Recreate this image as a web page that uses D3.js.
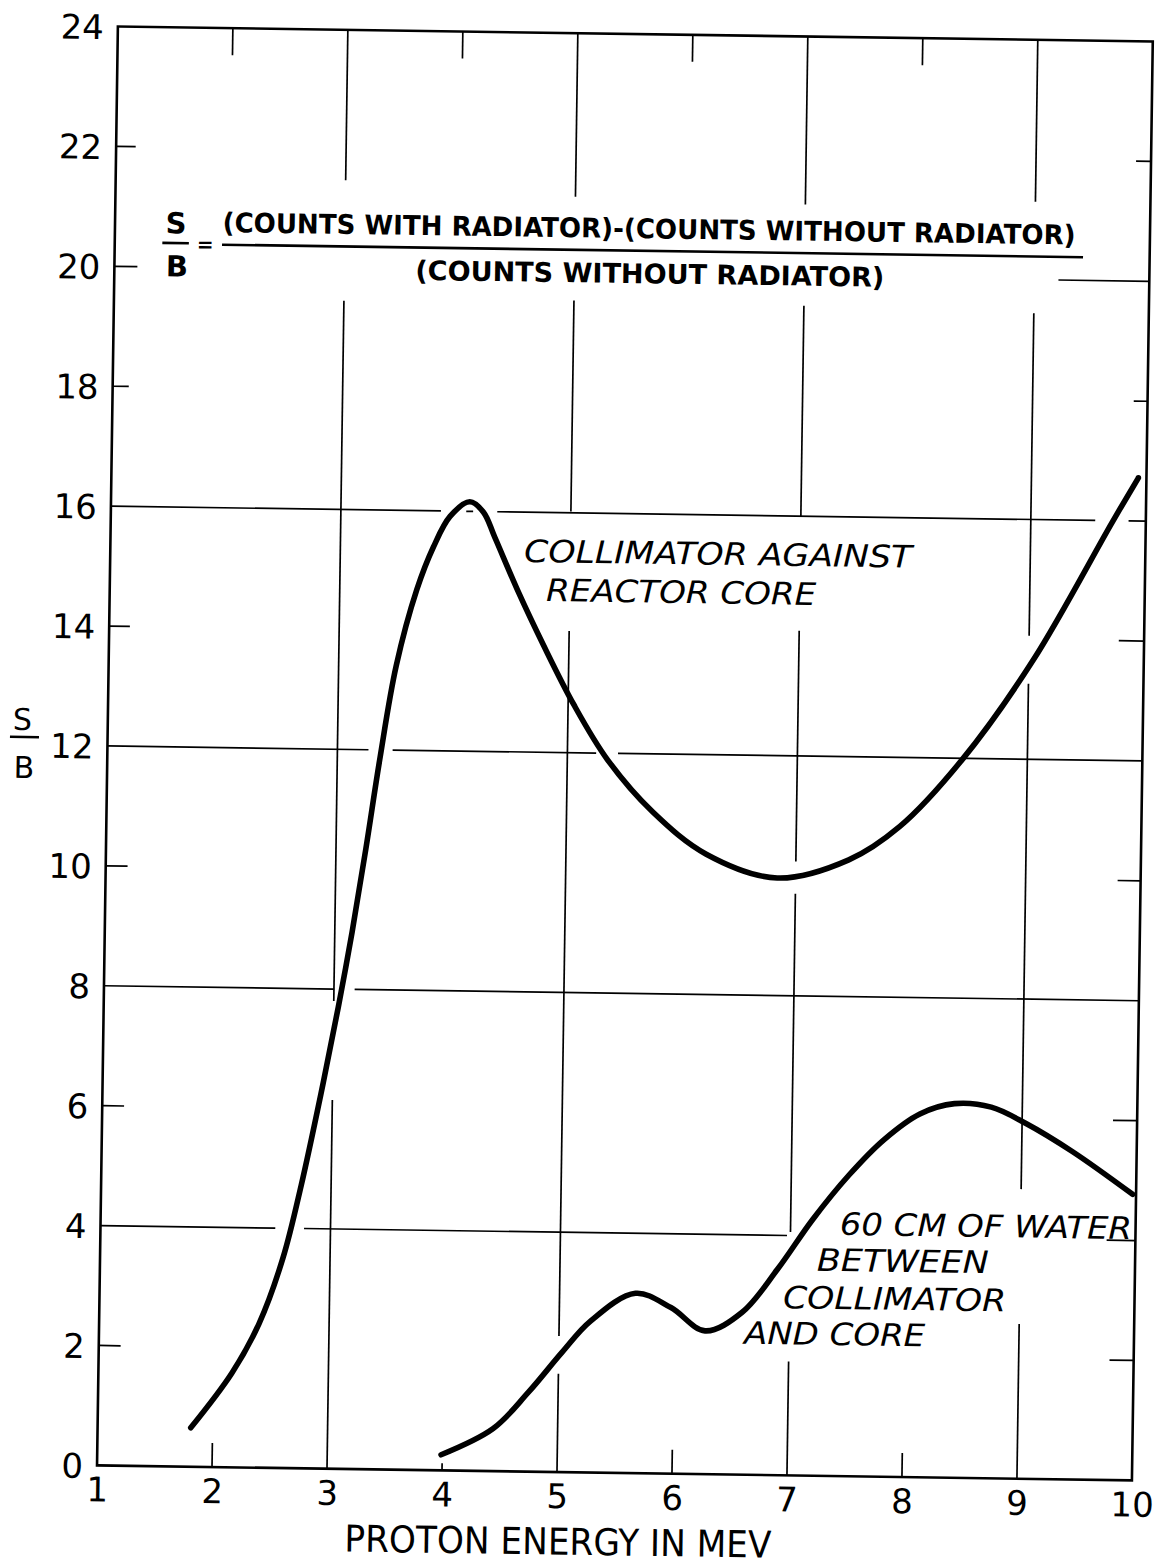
<!DOCTYPE html>
<html>
<head>
<meta charset="utf-8">
<script src="https://cdn.jsdelivr.net/npm/d3@7"></script>
<style>
  html, body { margin: 0; padding: 0; background: #fff; }
  svg { display: block; }
</style>
</head>
<body>
<svg id="chart" width="1157" height="1566"></svg>
<script>
// Axis ticks
const energyTicks = [1, 2, 3, 4, 5, 6, 7, 8, 9, 10];
const ratioTicks = [0, 2, 4, 6, 8, 10, 12, 14, 16, 18, 20, 22, 24];

// S/B with the collimator against the reactor core
const coreEnergy = [1.81, 2.16, 2.39, 2.59, 2.74, 2.90, 3.04, 3.15, 3.26, 3.37, 3.50, 3.67, 3.81, 3.95, 4.12, 4.24, 4.34, 4.55, 4.78, 5.05, 5.35, 5.75, 6.22, 6.84, 7.46, 7.90, 8.43, 9.04, 9.71, 9.93];
const coreRatio  = [0.65, 1.57, 2.40, 3.50, 4.72, 6.25, 7.70, 8.95, 10.35, 11.85, 13.40, 14.68, 15.40, 15.91, 16.16, 15.99, 15.58, 14.68, 13.78, 12.80, 11.89, 11.03, 10.34, 9.96, 10.28, 10.85, 11.97, 13.66, 15.98, 16.72];

// S/B with 60 cm of water between collimator and core
const waterEnergy = [3.99, 4.44, 4.74, 5.03, 5.27, 5.66, 5.97, 6.27, 6.59, 6.89, 7.19, 7.50, 7.80, 8.11, 8.41, 8.73, 9.03, 9.44, 9.97];
const waterRatio  = [0.26, 0.71, 1.32, 2.00, 2.52, 3.00, 2.77, 2.39, 2.71, 3.43, 4.27, 5.02, 5.62, 6.06, 6.24, 6.19, 5.93, 5.47, 4.77];

// Ruled grid, in axis units: each rule is broken where a curve or lettering crosses it
const verticalRules = [
  { at: 2, spans: [[0, 0.4], [23.55, 24]] },
  { at: 3, spans: [[0, 6.15], [7.8, 19.48], [21.49, 24]] },
  { at: 4, spans: [[0, 0.12], [23.55, 24]] },
  { at: 5, spans: [[0, 1.64], [2.27, 14.03], [16.02, 19.54], [21.27, 24]] },
  { at: 6, spans: [[0, 0.4], [23.55, 24]] },
  { at: 7, spans: [[0, 1.9], [4.06, 9.7], [10.24, 14.09], [15.99, 19.51], [21.2, 24]] },
  { at: 8, spans: [[0, 0.4], [23.55, 24]] },
  { at: 9, spans: [[0, 2.58], [4.83, 13.26], [14.06, 19.44], [21.3, 24]] }
];
const horizontalRules = [
  { at: 2,  spans: [[1, 1.19], [9.79, 10]] },
  { at: 4,  spans: [[1, 2.52], [2.77, 6.97], [9.75, 10]] },
  { at: 6,  spans: [[1, 1.19], [9.79, 10]] },
  { at: 8,  spans: [[1, 3.0], [3.18, 10]] },
  { at: 10, spans: [[1, 1.19], [9.8, 10]] },
  { at: 12, spans: [[1, 3.27], [3.48, 5.25], [5.44, 10]] },
  { at: 14, spans: [[1, 1.18], [9.78, 10]] },
  { at: 16, spans: [[1, 3.87], [4.09, 4.15], [4.36, 9.56], [9.85, 10]] },
  { at: 18, spans: [[1, 1.14], [9.88, 10]] },
  { at: 20, spans: [[1, 1.2], [9.21, 10]] },
  { at: 22, spans: [[1, 1.17], [9.87, 10]] }
];

const W = 1157, H = 1566;
const frame = { left: 107.4, right: 1142.4, top: 33.95, bottom: 1472.95 };
const FONT = "'DejaVu Sans', 'Liberation Sans', sans-serif";

const svg = d3.select('#chart');
svg.append('rect').attr('width', W).attr('height', H).attr('fill', '#fff');

// the sheet sits slightly turned on the page
const g = svg.append('g').attr('transform', 'rotate(0.83 624.9 753.45)');

const x = d3.scaleLinear().domain([1, 10]).range([frame.left, frame.right]);
const y = d3.scaleLinear().domain([0, 24]).range([frame.bottom, frame.top]);

// grid rules
const rules = g.append('g').attr('stroke', '#000').attr('stroke-width', 1.7).attr('fill', 'none');
verticalRules.forEach(r => r.spans.forEach(([a, b]) => {
  rules.append('line').attr('x1', x(r.at)).attr('x2', x(r.at)).attr('y1', y(a)).attr('y2', y(b));
}));
horizontalRules.forEach(r => r.spans.forEach(([a, b]) => {
  rules.append('line').attr('y1', y(r.at)).attr('y2', y(r.at)).attr('x1', x(a)).attr('x2', x(b));
}));

// frame
g.append('rect')
  .attr('x', frame.left).attr('y', frame.top)
  .attr('width', frame.right - frame.left).attr('height', frame.bottom - frame.top)
  .attr('fill', 'none').attr('stroke', '#000').attr('stroke-width', 2.6);

// axes (labels only; rules are drawn above)
const styleAxis = sel => {
  sel.select('.domain').remove();
  sel.attr('font-family', FONT).attr('font-size', 34);
  sel.selectAll('text').attr('fill', '#000');
};
g.append('g')
  .attr('transform', `translate(0,${frame.bottom})`)
  .call(d3.axisBottom(x).tickValues(energyTicks).tickSize(0).tickPadding(12).tickFormat(d3.format('d')))
  .call(styleAxis);
g.append('g')
  .attr('transform', `translate(${frame.left},0)`)
  .call(d3.axisLeft(y).tickValues(ratioTicks).tickSize(0).tickPadding(14).tickFormat(d3.format('d')))
  .call(styleAxis)
  .selectAll('text').attr('dy', '0.36em');

// x axis title
g.append('text')
  .attr('x', 569.4).attr('y', 1555.5)
  .attr('text-anchor', 'middle')
  .attr('font-family', FONT).attr('font-size', 37)
  .attr('textLength', 427).attr('lengthAdjust', 'spacingAndGlyphs')
  .text('PROTON ENERGY IN MEV');

// y axis title  S / B
const yTitle = g.append('g').attr('font-family', FONT).attr('font-size', 30).attr('text-anchor', 'middle');
yTitle.append('text').attr('x', 22).attr('y', 738.5).text('S');
yTitle.append('line').attr('x1', 9.8).attr('x2', 38.8).attr('y1', 745.7).attr('y2', 745.7)
  .attr('stroke', '#000').attr('stroke-width', 2.6);
yTitle.append('text').attr('x', 24.3).attr('y', 786.5).text('B');

// definition of S/B
const def = g.append('g').attr('font-family', FONT).attr('font-weight', 'bold').attr('fill', '#000');
def.append('text').attr('x', 168.4).attr('y', 240).attr('font-size', 29).attr('text-anchor', 'middle').text('S');
def.append('line').attr('x1', 155).attr('x2', 181.5).attr('y1', 249.6).attr('y2', 249.6)
  .attr('stroke', '#000').attr('stroke-width', 2.6);
def.append('text').attr('x', 170).attr('y', 283).attr('font-size', 29).attr('text-anchor', 'middle').text('B');
def.append('text').attr('x', 198).attr('y', 257.5).attr('font-size', 20).attr('text-anchor', 'middle').text('=');
def.append('text').attr('x', 215).attr('y', 238).attr('font-size', 27)
  .attr('textLength', 853).attr('lengthAdjust', 'spacingAndGlyphs')
  .text('(COUNTS WITH RADIATOR)-(COUNTS WITHOUT RADIATOR)');
def.append('line').attr('x1', 214.7).attr('x2', 1075.8).attr('y1', 250.6).attr('y2', 250.6)
  .attr('stroke', '#000').attr('stroke-width', 2.6);
def.append('text').attr('x', 408.4).attr('y', 283).attr('font-size', 27)
  .attr('textLength', 469).attr('lengthAdjust', 'spacingAndGlyphs')
  .text('(COUNTS WITHOUT RADIATOR)');

// curves
const line = d3.line()
  .x(d => x(d[0]))
  .y(d => y(d[1]))
  .curve(d3.curveCatmullRom.alpha(0.5));
const curves = [
  d3.zip(coreEnergy, coreRatio),
  d3.zip(waterEnergy, waterRatio)
];
g.append('g').selectAll('path').data(curves).join('path')
  .attr('d', line)
  .attr('fill', 'none').attr('stroke', '#000')
  .attr('stroke-width', 5.6)
  .attr('stroke-linecap', 'round').attr('stroke-linejoin', 'round');

// curve labels
const notes = [
  { text: 'COLLIMATOR AGAINST', x: 521.3, y: 563.4, len: 388 },
  { text: 'REACTOR CORE', x: 543.8, y: 602.2, len: 270 },
  { text: '60 CM OF WATER', x: 846.8, y: 1231.7, len: 292 },
  { text: 'BETWEEN', x: 824.2, y: 1267.9, len: 172 },
  { text: 'COLLIMATOR', x: 791.0, y: 1305.8, len: 223 },
  { text: 'AND CORE', x: 752.5, y: 1341.9, len: 181 }
];
g.append('g').attr('font-family', FONT).attr('font-style', 'italic').attr('font-size', 31)
  .selectAll('text').data(notes).join('text')
  .attr('x', d => d.x).attr('y', d => d.y)
  .attr('textLength', d => d.len).attr('lengthAdjust', 'spacingAndGlyphs')
  .text(d => d.text);
</script>
</body>
</html>
